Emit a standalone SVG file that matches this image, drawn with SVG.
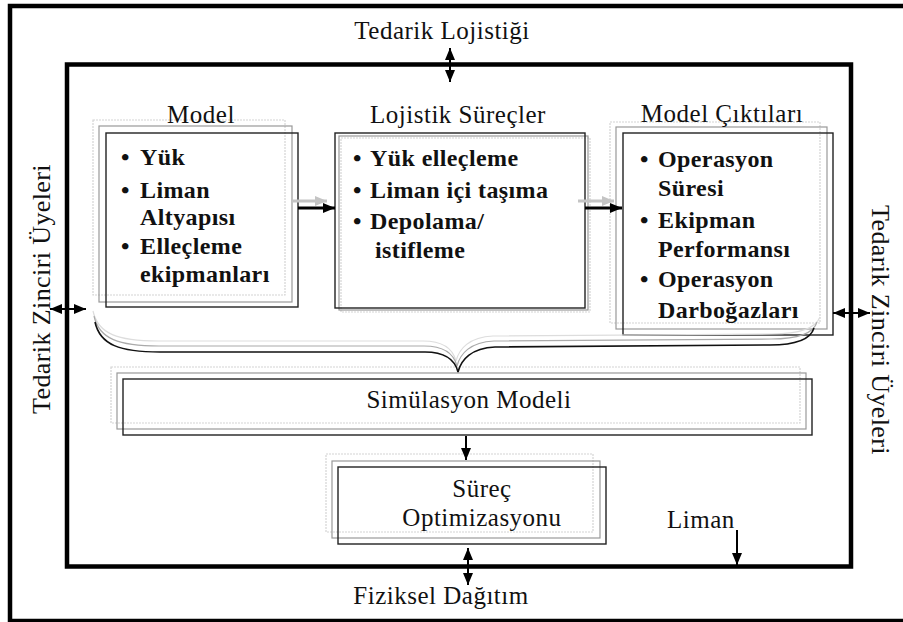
<svg xmlns="http://www.w3.org/2000/svg" width="903" height="622" viewBox="0 0 903 622">
<style>
text{font-family:"Liberation Serif","Times New Roman",serif;fill:#111}
.t{font-size:25px;letter-spacing:0.5px}
.side{font-size:26px;letter-spacing:0.4px}
.b{font-size:24px;font-weight:bold;letter-spacing:0.4px}
.box{fill:none;stroke:#222;stroke-width:1.4}
.sh1{fill:none;stroke:#999;stroke-width:1.2}
.sh2{fill:none;stroke:#d4d4d4;stroke-width:1.2;stroke-dasharray:2 1}
.frame{fill:none;stroke:#000;stroke-width:4.5}
.arr{stroke:#000;stroke-width:2;fill:none}
.arrT{stroke:#000;stroke-width:3;fill:none}
.arrG{stroke:#c4c4c4;stroke-width:3;fill:none}
.br{fill:none;stroke:#111;stroke-width:1.6}
.brg1{fill:none;stroke:#aaa;stroke-width:1.2}
.brg2{fill:none;stroke:#ddd;stroke-width:1.2}
</style>
<defs>
<marker id="ah" viewBox="0 0 12 10" refX="12" refY="5" markerWidth="12" markerHeight="10" markerUnits="userSpaceOnUse" orient="auto-start-reverse"><path d="M0,0 L12,5 L0,10 z" fill="#000"/></marker>
<marker id="ahg" viewBox="0 0 12 10" refX="12" refY="5" markerWidth="12" markerHeight="10" markerUnits="userSpaceOnUse" orient="auto"><path d="M0,0 L12,5 L0,10 z" fill="#c4c4c4"/></marker>
</defs>
<rect width="903" height="622" fill="#fff"/>
<g id="frames">
<rect class="frame" x="10" y="6" width="900" height="615"/>
<rect class="frame" x="67" y="64.5" width="784" height="502"/>
</g>
<g id="outer-labels">
<text class="t" x="442" y="39" text-anchor="middle">Tedarik Lojistiği</text>
<text class="t" x="441" y="604" text-anchor="middle">Fiziksel Dağıtım</text>
<text class="side" transform="translate(50,289) rotate(-90)" text-anchor="middle">Tedarik Zinciri Üyeleri</text>
<text class="side" transform="translate(872,330) rotate(90)" text-anchor="middle">Tedarik Zinciri Üyeleri</text>
<text class="t" x="667" y="528">Liman</text>
</g>
<g id="node-model">
<rect class="sh2" x="93" y="120" width="192" height="175"/>
<rect class="sh1" x="99" y="126" width="193" height="176"/>
<rect class="box" x="106" y="133" width="192" height="174"/>
<text class="t" x="201" y="123" text-anchor="middle">Model</text>
<text class="b" x="121" y="165">•</text><text class="b" x="140" y="165">Yük</text>
<text class="b" x="121" y="198">•</text><text class="b" x="140" y="198">Liman</text>
<text class="b" x="140" y="225">Altyapısı</text>
<text class="b" x="121" y="254">•</text><text class="b" x="140" y="254">Elleçleme</text>
<text class="b" x="140" y="282">ekipmanları</text>
</g>
<g id="node-lojistik">
<rect class="sh2" x="341" y="138" width="249" height="174"/>
<rect class="sh1" x="339" y="136" width="249" height="174"/>
<rect class="box" x="335" y="133" width="250" height="175"/>
<text class="t" x="458" y="123" text-anchor="middle">Lojistik Süreçler</text>
<text class="b" x="353" y="166">•</text><text class="b" x="370" y="166">Yük elleçleme</text>
<text class="b" x="353" y="198">•</text><text class="b" x="370" y="198">Liman içi taşıma</text>
<text class="b" x="353" y="229">•</text><text class="b" x="370" y="229">Depolama/</text>
<text class="b" x="375" y="258">istifleme</text>
</g>
<g id="node-ciktilar">
<rect class="sh2" x="610" y="122" width="210" height="201"/>
<rect class="sh1" x="616" y="127" width="211" height="202"/>
<rect class="box" x="623" y="133" width="210" height="202"/>
<text class="t" x="722" y="122" text-anchor="middle">Model Çıktıları</text>
<text class="b" x="640" y="167">•</text><text class="b" x="658" y="167">Operasyon</text>
<text class="b" x="658" y="196">Süresi</text>
<text class="b" x="640" y="228">•</text><text class="b" x="658" y="228">Ekipman</text>
<text class="b" x="658" y="257">Performansı</text>
<text class="b" x="640" y="287">•</text><text class="b" x="658" y="287">Operasyon</text>
<text class="b" x="658" y="318">Darboğazları</text>
</g>
<g id="node-simulasyon">
<rect class="sh2" x="111" y="367" width="689" height="56"/>
<rect class="sh1" x="117" y="373" width="689" height="56"/>
<rect class="box" x="123" y="379" width="689" height="56"/>
<text class="t" x="469" y="408" text-anchor="middle">Simülasyon Modeli</text>
</g>
<g id="node-surec">
<rect class="sh2" x="326" y="454" width="267" height="78"/>
<rect class="sh1" x="332" y="461" width="268" height="77"/>
<rect class="box" x="338" y="467" width="268" height="77"/>
<text class="t" x="482" y="497" text-anchor="middle">Süreç</text>
<text class="t" x="482" y="526" text-anchor="middle">Optimizasyonu</text>
</g>
<g id="connectors">
<path class="brg2" d="M93,311 C98,334 118,341 158,341 L423,341 C443,341 453,349 456,361 C459,349 469,337 493,336 L772,334 C802,334 816,327 820,317"/>
<path class="brg1" d="M94,316 C99,339 119,346 159,346 L424,346 C444,346 454,354 457,366 C460,354 470,342 494,341 L771,339 C801,339 814,332 817,322"/>
<path class="br" d="M95,322 C100,345 120,352 160,352 L425,352 C445,352 455,360 458,372 C461,360 471,348 495,347 L770,345 C800,345 811,338 814,328"/>
<line class="arr" x1="450" y1="48" x2="450" y2="82" marker-start="url(#ah)" marker-end="url(#ah)"/>
<line class="arr" x1="50" y1="309" x2="86" y2="309" marker-start="url(#ah)" marker-end="url(#ah)"/>
<line class="arr" x1="833" y1="313" x2="870" y2="313" marker-start="url(#ah)" marker-end="url(#ah)"/>
<line class="arr" x1="468" y1="548" x2="468" y2="585" marker-start="url(#ah)" marker-end="url(#ah)"/>
<line class="arr" x1="466" y1="436" x2="466" y2="460" marker-end="url(#ah)"/>
<line class="arr" x1="737" y1="530" x2="737" y2="565" marker-end="url(#ah)"/>
<line class="arrG" x1="292" y1="201" x2="327" y2="201" marker-end="url(#ahg)"/>
<line class="arrG" x1="578" y1="201" x2="614" y2="201" marker-end="url(#ahg)"/>
<line class="arrT" x1="298" y1="208" x2="335" y2="208" marker-end="url(#ah)"/>
<line class="arrT" x1="585" y1="208" x2="622" y2="208" marker-end="url(#ah)"/>
</g>
</svg>
